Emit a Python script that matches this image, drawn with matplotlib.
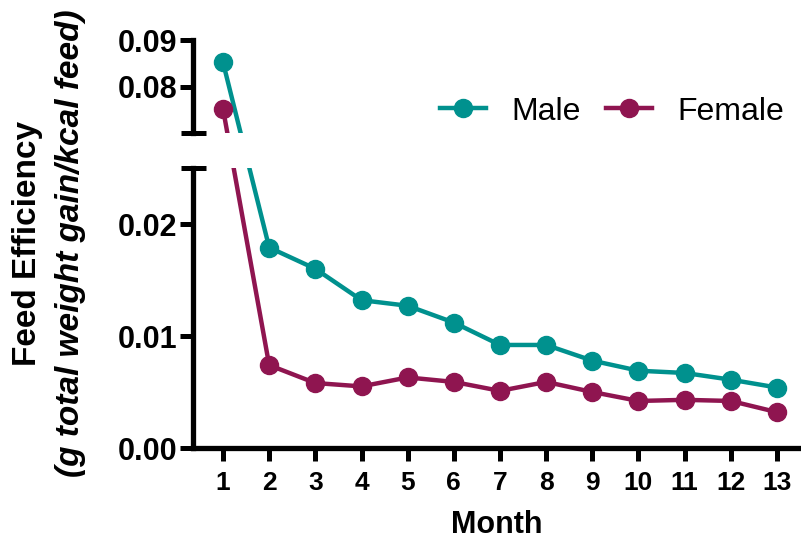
import matplotlib
matplotlib.use("Agg")
import matplotlib.pyplot as plt
from matplotlib.ticker import FixedLocator

plt.rcParams['font.family'] = ['Liberation Sans', 'DejaVu Sans']

months = list(range(1, 14))
male = [0.0852, 0.0179, 0.0160, 0.0132, 0.0127, 0.0112, 0.0092, 0.0092,
        0.0078, 0.0069, 0.0067, 0.0061, 0.0054]
female = [0.0752, 0.0074, 0.0058, 0.0055, 0.0063, 0.0059, 0.0051, 0.0059,
          0.0050, 0.0042, 0.0043, 0.0042, 0.0032]
upper_ticks = [0.08, 0.09]
lower_ticks = [0.00, 0.01, 0.02]
upper_labels = ['0.08', '0.09']
lower_labels = ['0.00', '0.01', '0.02']

teal = '#00918E'
maroon = '#8F1550'

W, H = 801, 544
fig = plt.figure(figsize=(W / 100, H / 100), dpi=100)

left = 193 / W
width = 1 - left
ax_lo = fig.add_axes([left, 1 - 448 / H, width, 280 / H])
ax_hi = fig.add_axes([left, 1 - 133 / H, width, 93 / H])

ax_lo.set_ylim(0, 0.025)
ax_hi.set_ylim(0.07, 0.09)
for ax in (ax_lo, ax_hi):
    ax.set_xlim(0.35, 13.52)

lw_line = 3.2
ms = 13
series = [('Male', male, teal), ('Female', female, maroon)]
for name, vals, col in series:
    hi_x = [m for m, v in zip(months, vals) if v >= 0.07]
    hi_y = [v for v in vals if v >= 0.07]
    lo_x = [m for m, v in zip(months, vals) if v < 0.07]
    lo_y = [v for v in vals if v < 0.07]
    ax_hi.plot(hi_x, hi_y, color=col, lw=lw_line, marker='o', ms=ms, zorder=3)
    ax_lo.plot(lo_x, lo_y, color=col, lw=lw_line, marker='o', ms=ms, label=name, zorder=3)
    # connecting segment across the break, straight in display space
    p1 = ax_hi.transData.transform((hi_x[-1], hi_y[-1]))
    p2 = ax_lo.transData.transform((lo_x[0], lo_y[0]))
    inv = fig.transFigure.inverted()
    f1 = inv.transform(p1)
    f2 = inv.transform(p2)
    for ax in (ax_hi, ax_lo):
        ax.plot([f1[0], f2[0]], [f1[1], f2[1]], color=col, lw=lw_line,
                transform=fig.transFigure, scalex=False, scaley=False, zorder=2)

lw_spine = 3.8
for ax in (ax_lo, ax_hi):
    for s in ('top', 'right'):
        ax.spines[s].set_visible(False)
    ax.spines['left'].set_linewidth(lw_spine)
    ax.spines['bottom'].set_linewidth(lw_spine)
    ax.patch.set_alpha(0)
    ax.set_xlim(0.35, 13.52)

ax_lo.set_ylim(0, 0.025)
ax_hi.set_ylim(0.07, 0.09)

ax_hi.spines['bottom'].set_visible(False)
ax_hi.set_xticks([])

ax_lo.set_xticks(months)
ax_lo.set_xticklabels([str(m) for m in months], fontsize=19, fontweight='bold')
ax_lo.tick_params(axis='x', direction='out', length=9.5, width=3.6, pad=7)

ax_lo.set_yticks(lower_ticks)
ax_lo.set_yticklabels(lower_labels, fontsize=22, fontweight='bold')
ax_hi.set_yticks(upper_ticks)
ax_hi.set_yticklabels(upper_labels, fontsize=22, fontweight='bold')
for ax in (ax_lo, ax_hi):
    ax.tick_params(axis='y', direction='out', length=9.5, width=3.6, pad=2)
    ax.tick_params(axis='y', which='minor', direction='inout', length=18, width=3.6)

ax_lo.yaxis.set_minor_locator(FixedLocator([0.025]))
ax_hi.yaxis.set_minor_locator(FixedLocator([0.07]))

ax_lo.set_xlabel('Month', fontsize=22, fontweight='bold', labelpad=11)

fig.text(28 / W, 1 - 243 / H, 'Feed Efficiency', rotation=90, ha='center', va='center',
         fontsize=24, fontweight='bold')
fig.text(71 / W, 1 - 243 / H, '(g total weight gain/kcal feed)', rotation=90,
         ha='center', va='center', fontsize=24, fontweight='bold', fontstyle='italic')

handles, labels = ax_lo.get_legend_handles_labels()
leg = ax_hi.legend(handles, labels, loc='center left',
                   bbox_to_anchor=((440 - 193) / (W - 193), 0.23),
                   ncol=2, frameon=False, fontsize=23, handlelength=1.45,
                   columnspacing=0.8, handletextpad=0.78, borderaxespad=0,
                   borderpad=0)

fig.savefig('out.png', dpi=100)
